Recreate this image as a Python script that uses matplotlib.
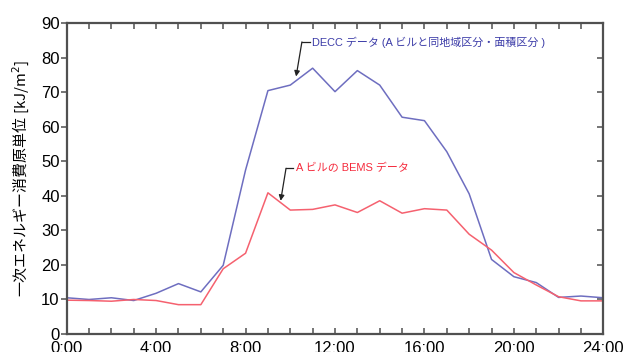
import matplotlib
matplotlib.use("Agg")
import matplotlib.pyplot as plt
from matplotlib.ticker import MultipleLocator, FixedLocator

# データ (時刻別の一次エネルギー消費原単位)
hours = list(range(25))
decc = [10.5, 10.0, 10.5, 9.7, 11.8, 14.6, 12.2, 19.9, 47.5, 70.5, 72.1, 77.0,
        70.2, 76.3, 72.1, 62.8, 61.8, 52.8, 40.6, 21.6, 16.6, 14.9, 10.6, 11.0, 10.5]
bems = [9.8, 9.7, 9.5, 10.0, 9.7, 8.5, 8.5, 18.9, 23.4, 40.9, 35.9, 36.1,
        37.4, 35.2, 38.6, 35.0, 36.3, 35.9, 28.9, 24.3, 17.8, 14.2, 10.8, 9.6, 9.6]
xtick_labels = ["0:00", "4:00", "8:00", "12:00", "16:00", "20:00", "24:00"]

decc_label = "DECC データ (A ビルと同地域区分・面積区分 )"
bems_label = "A ビルの BEMS データ"

plt.rcParams['font.family'] = ['Liberation Sans', 'Noto Sans CJK JP', 'DejaVu Sans']

fig = plt.figure(figsize=(6.26, 3.52), dpi=100)
ax = fig.add_axes([0.1065, 0.0511, 0.8573, 0.8827])

ax.plot(hours, decc, color='#6e6ec0', linewidth=1.1)
ax.plot(hours, bems, color='#f5616f', linewidth=1.1)

ax.set_xlim(0, 24)
ax.set_ylim(0, 90)
ax.xaxis.set_major_locator(FixedLocator(range(0, 25, 4)))
ax.xaxis.set_minor_locator(MultipleLocator(1))
ax.set_xticklabels(xtick_labels)
ax.yaxis.set_major_locator(MultipleLocator(10))

for s in ax.spines.values():
    s.set_color('#505050')
    s.set_linewidth(1.6)

ax.tick_params(axis='x', which='both', direction='in', top=True, length=4,
               width=1.1, color='#505050', labelsize=12, pad=5)
ax.tick_params(axis='y', which='both', direction='out', length=4,
               width=1.1, color='#505050', labelsize=12, pad=1)
ax.tick_params(axis='y', which='both', right=True)
# right side ticks inward
for t in ax.yaxis.get_major_ticks():
    t.tick2line.set_marker(matplotlib.markers.TICKLEFT)

ax.set_ylabel("一次エネルギー消費原単位 [kJ/m$^2$]", fontsize=10.8,
              family=['Noto Sans CJK JP', 'DejaVu Sans'], labelpad=7)

# 注記 (矢印付き)
ax.annotate("", xy=(10.26, 74.6), xytext=(10.52, 84.6),
            arrowprops=dict(arrowstyle='-|>', color='#222222', lw=0.9,
                            mutation_scale=8, shrinkA=0, shrinkB=0))
ax.plot([10.52, 10.9], [84.6, 84.6], color='#222222', lw=0.9)
ax.text(10.98, 84.6, decc_label, color='#3c3ca8', fontsize=7.9,
        va='center', ha='left', family=['Liberation Sans', 'Noto Sans CJK JP'])

ax.annotate("", xy=(9.57, 38.6), xytext=(9.81, 48.0),
            arrowprops=dict(arrowstyle='-|>', color='#222222', lw=0.9,
                            mutation_scale=8, shrinkA=0, shrinkB=0))
ax.plot([9.81, 10.1], [48.0, 48.0], color='#222222', lw=0.9)
ax.text(10.25, 48.0, bems_label, color='#f52a3c', fontsize=7.9,
        va='center', ha='left', family=['Liberation Sans', 'Noto Sans CJK JP'])

fig.savefig("out.png", dpi=100)
